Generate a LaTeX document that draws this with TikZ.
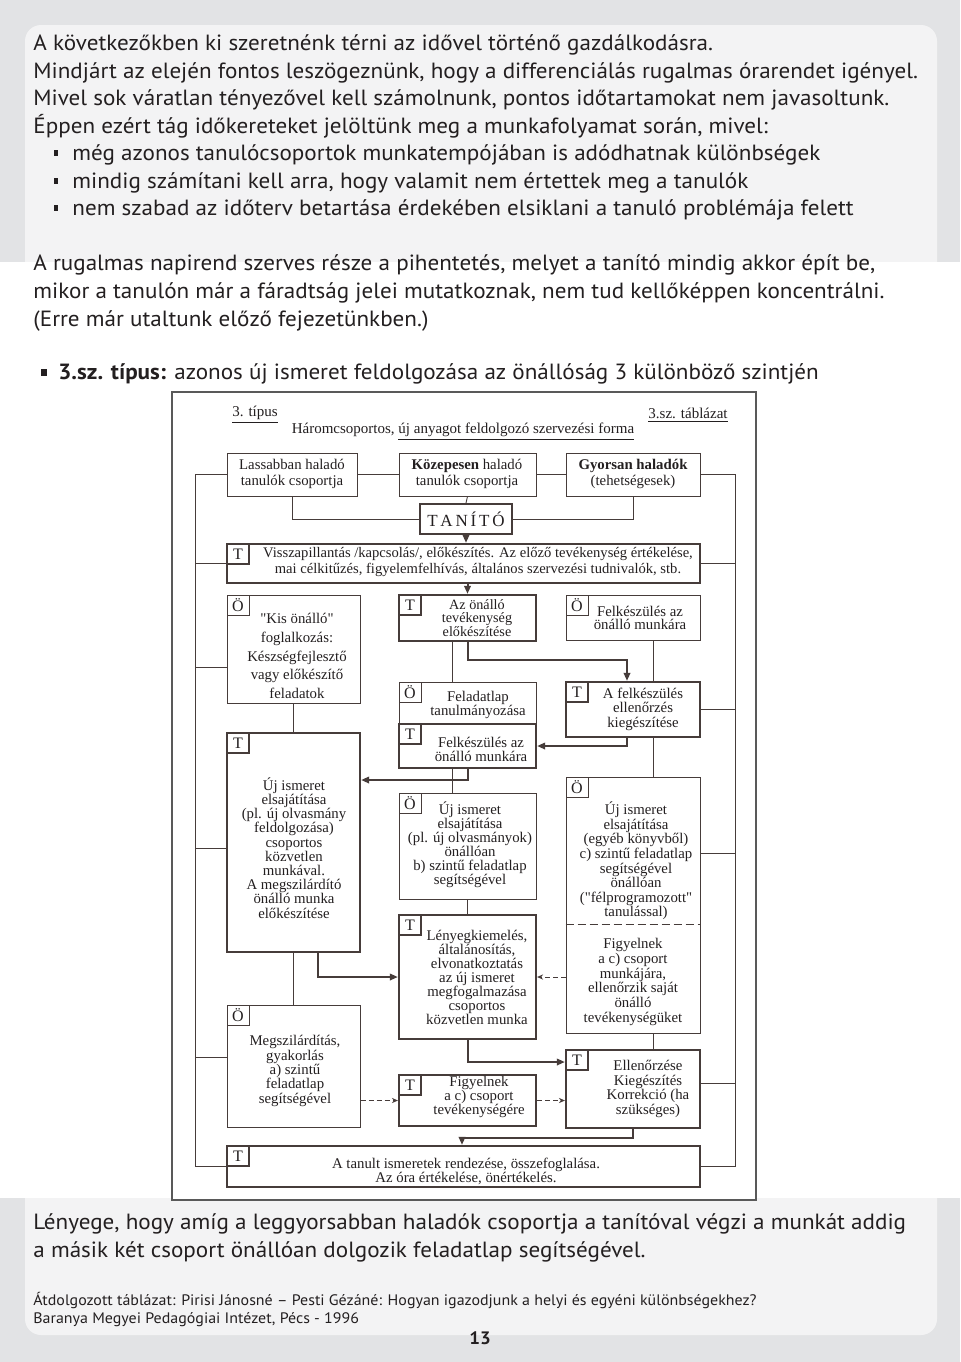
\documentclass[tikz,border=0pt]{standalone}
\usepackage{fontspec}
\setmainfont{Liberation Serif}
\newfontfamily\qfont{Liberation Serif}[Ligatures=TeXOff]
\newfontfamily\bodyfont[FakeStretch=1.05]{PT Sans}
\usetikzlibrary{arrows.meta, fit}

\definecolor{dline}{RGB}{70,60,58}
\definecolor{ink}{RGB}{35,31,32}
\definecolor{pagegray}{RGB}{226,227,229}
\definecolor{panel}{RGB}{243,243,244}

\newcommand{\sq}{{\qfont"}}

\tikzset{
    box/.style={draw=dline, inner sep=0pt, line width=0.5pt, text=ink},
    tbox/.style={box, line width=1.1pt},
    lab/.style={draw=dline, anchor=north west, minimum width=11pt, minimum height=10pt,
        inner sep=0pt, text=ink, font=\fontsize{8}{8}\selectfont},
    labt/.style={lab, line width=1.1pt},
    labo/.style={lab, line width=0.5pt},
    txt/.style={align=center, inner sep=0pt, text=ink, font=\fontsize{7.4}{#1}\selectfont},
    txt/.default=7.4,
    link/.style={draw=dline, line width=0.45pt},
    flow/.style={draw=dline, line width=1pt, -{Triangle[length=4pt,width=3.2pt]}},
    dflow/.style={draw=dline, line width=0.5pt, dash pattern=on 2.5pt off 1.5pt,
        -{Stealth[length=3pt,width=2.6pt]}},
    ptext/.style={anchor=base west, inner sep=0pt, text=ink,
        font=\bodyfont\fontsize{11}{12}\selectfont},
    stext/.style={ptext, font=\bodyfont\fontsize{7.6}{9}\selectfont},
    dot/.style={fill=ink, minimum width=2.2pt, minimum height=3pt, inner sep=0pt},
}

\begin{document}
\begin{tikzpicture}[x=0.5pt, y=-0.5pt]
% page
\useasboundingbox (0,0) rectangle (960,1362);
\fill[pagegray] (0,0) rectangle (960,1362);
\fill[panel, rounded corners=8pt] (25,25) rectangle (937,1335);
\fill[white] (0,262) rectangle (960,1198);

% text above
\node[ptext] (p1) at (33,50) {A következőkben ki szeretnénk térni az idővel történő gazdálkodásra.};
\node[ptext] (p2) at (33,78) {Mindjárt az elején fontos leszögeznünk, hogy a differenciálás rugalmas órarendet igényel.};
\node[ptext] (p3) at (33,105) {Mivel sok váratlan tényezővel kell számolnunk, pontos időtartamokat nem javasoltunk.};
\node[ptext] (p4) at (33,133) {Éppen ezért tág időkereteket jelöltünk meg a munkafolyamat során, mivel:};
\node[dot] (d1) at (56,153) {};
\node[ptext] (i1) at (72,160) {még azonos tanulócsoportok munkatempójában is adódhatnak különbségek};
\node[dot] (d2) at (56,181) {};
\node[ptext] (i2) at (72,188) {mindig számítani kell arra, hogy valamit nem értettek meg a tanulók};
\node[dot] (d3) at (56,208) {};
\node[ptext] (i3) at (72,215) {nem szabad az időterv betartása érdekében elsiklani a tanuló problémája felett};
\node[ptext] (q1) at (33,270) {A rugalmas napirend szerves része a pihentetés, melyet a tanító mindig akkor épít be,};
\node[ptext] (q2) at (33,298) {mikor a tanulón már a fáradtság jelei mutatkoznak, nem tud kellőképpen koncentrálni.};
\node[ptext] (q3) at (33,326) {(Erre már utaltunk előző fejezetünkben.)};
\node[dot, minimum width=3pt, minimum height=3.5pt] (d4) at (44,372) {};
\node[ptext] (head) at (58,379) {\textbf{3.sz. típus:} azonos új ismeret feldolgozása az önállóság 3 különböző szintjén};

% frame of the table
\draw[draw=gray!70!black, line width=1.2pt, fill=white] (172,392) rectangle (756,1200);
\node[txt] (tip) at (255,415) {\fontsize{7.5}{8}\selectfont\underline{3. típus}};
\node[txt] (tabl) at (688,415) {\fontsize{7.5}{8}\selectfont\underline{3.sz. táblázat}};
\node[txt] (title) at (463,432) {\fontsize{7.5}{8}\selectfont Háromcsoportos, \underline{új anyagot feldolgozó szervezési forma}};

% groups and teacher
\node[box, fit={(227,453) (357,496)}] (lass) {};
\node[box, fit={(399,453) (536,496)}] (koz) {};
\node[box, fit={(566,453) (700,496)}] (gyors) {};
\node[tbox, fit={(420,504) (512,534)}] (tanito) {};
\node[txt=7.6] (lass-t) at (292,474) {Lassabban haladó\\tanulók csoportja};
\node[txt=7.6] (koz-t) at (467,474) {\textbf{Közepesen} haladó\\tanulók csoportja};
\node[txt=7.6] (gyors-t) at (633,474) {\textbf{Gyorsan haladók}\\(tehetségesek)};
\node[txt, font=\fontsize{8.5}{9}\selectfont] (tanito-t) at (466,519) {T\,A\,N\,Í\,T\,Ó};

% boxes
\node[tbox, fit={(227,544) (700,583)}] (vissza) {};
\node[box, fit={(227,595) (360,703)}] (kis) {};
\node[tbox, fit={(399,595) (536,641)}] (aznal) {};
\node[box, fit={(566,595) (700,640)}] (felk1) {};
\node[box, fit={(399,682) (536,724)}] (feladat) {};
\node[tbox, fit={(399,724) (536,768)}] (felk2) {};
\node[tbox, fit={(566,682) (700,737)}] (afelk) {};
\node[tbox, fit={(227,733) (360,952)}] (uj1) {};
\node[box, fit={(399,793) (536,899)}] (uj2) {};
\node[box, fit={(566,777) (700,1033)}] (uj3) {};
\node[tbox, fit={(399,915) (536,1039)}] (leny) {};
\node[box, fit={(227,1005) (360,1127)}] (megsz) {};
\node[tbox, fit={(399,1075) (536,1126)}] (figy) {};
\node[tbox, fit={(566,1050) (700,1128)}] (ellen) {};
\node[tbox, fit={(227,1146) (700,1187)}] (osszeg) {};
\draw[draw=dline, line width=0.5pt, dash pattern=on 4pt off 2pt] (uj3.west |- 0,924) -- (uj3.east |- 0,924);

% corner labels
\node[labt] (vissza-l) at (vissza.north west) {T};
\node[labo] (kis-l) at (kis.north west) {Ö};
\node[labt] (aznal-l) at (aznal.north west) {T};
\node[labo] (felk1-l) at (felk1.north west) {Ö};
\node[labo] (feladat-l) at (feladat.north west) {Ö};
\node[labt] (felk2-l) at (felk2.north west) {T};
\node[labt] (afelk-l) at (afelk.north west) {T};
\node[labt] (uj1-l) at (uj1.north west) {T};
\node[labo] (uj2-l) at (uj2.north west) {Ö};
\node[labo] (uj3-l) at (uj3.north west) {Ö};
\node[labt] (leny-l) at (leny.north west) {T};
\node[labo] (megsz-l) at (megsz.north west) {Ö};
\node[labt] (figy-l) at (figy.north west) {T};
\node[labt] (ellen-l) at (ellen.north west) {T};
\node[labt] (osszeg-l) at (osszeg.north west) {T};

% texts in the boxes
\node[txt=8, font=\fontsize{7.3}{8}\selectfont] (vissza-t) at (478,562) {Visszapillantás /kapcsolás/, előkészítés. Az előző tevékenység értékelése,\\mai célkitűzés, figyelemfelhívás, általános szervezési tudnivalók, stb.};
\node[txt=9.4] (kis-t) at (297,656) {\sq Kis önálló\sq\\foglalkozás:\\Készségfejlesztő\\vagy előkészítő\\feladatok};
\node[txt, font=\fontsize{7.1}{6.8}\selectfont] (aznal-t) at (477,618) {Az önálló\\tevékenység\\előkészítése};
\node[txt=6.8] (felk1-t) at (640,618) {Felkészülés az\\önálló munkára};
\node[txt=7.3] (feladat-t) at (478,705) {Feladatlap\\tanulmányozása};
\node[txt=7] (felk2-t) at (481,749) {Felkészülés az\\önálló munkára};
\node[txt=7.3] (afelk-t) at (643,709) {A felkészülés\\ellenőrzés\\kiegészítése};
\node[txt=7.1] (uj1-t) at (294,848) {Új ismeret\\elsajátítása\\(pl. új olvasmány\\feldolgozása)\\csoportos\\közvetlen\\munkával.\\A megszilárdító\\önálló munka\\előkészítése};
\node[txt=7] (uj2-t) at (470,845) {Új ismeret\\elsajátítása\\(pl. új olvasmányok)\\önállóan\\b) szintű feladatlap\\segítségével};
\node[txt=7.3] (uj3-t) at (636,861) {Új ismeret\\elsajátítása\\(egyéb könyvből)\\c) szintű feladatlap\\segítségével\\önállóan\\(\sq félprogramozott\sq\\tanulással)};
\node[txt=7.4] (uj3-b) at (633,982) {Figyelnek\\a c) csoport\\munkájára,\\ellenőrzik saját\\önálló\\tevékenységüket};
\node[txt=7] (leny-t) at (477,977) {Lényegkiemelés,\\általánosítás,\\elvonatkoztatás\\az új ismeret\\megfogalmazása\\csoportos\\közvetlen munka};
\node[txt=7.2] (megsz-t) at (295,1071) {Megszilárdítás,\\gyakorlás\\a) szintű\\feladatlap\\segítségével};
\node[txt=7] (figy-t) at (479,1097) {Figyelnek\\a c) csoport\\tevékenységére};
\node[txt=7.4] (ellen-t) at (648,1089) {Ellenőrzése\\Kiegészítés\\Korrekció (ha\\szükséges)};
\node[txt=7] (osszeg-t) at (466,1171) {A tanult ismeretek rendezése, összefoglalása.\\Az óra értékelése, önértékelés.};

% rails
\coordinate (lrail) at (195,0);
\coordinate (rrail) at (735,0);
\draw[link] (lass.west) -| (lrail |- osszeg.west) -- (osszeg.west);
\draw[link] (gyors.east) -| (rrail |- osszeg.east) -- (osszeg.east);
\draw[link] (vissza.west) -- (lrail |- vissza.west);
\draw[link] (kis.west |- 0,667) -- (lrail |- 0,667);
\draw[link] (uj1.west |- 0,848) -- (lrail |- 0,848);
\draw[link] (megsz.west |- 0,1057) -- (lrail |- 0,1057);
\draw[link] (vissza.east) -- (rrail |- vissza.east);
\draw[link] (afelk.east) -- (rrail |- afelk.east);
\draw[link] (uj3.east |- 0,853) -- (rrail |- 0,853);
\draw[link] (ellen.east |- 0,1083) -- (rrail |- 0,1083);

% connectors
\draw[link] (lass.east) -- (koz.west);
\draw[link] (koz.east) -- (gyors.west);
\draw[link] (koz.south) -- (tanito.north);
\draw[link] (lass.south) |- (tanito.west);
\draw[link] (gyors.south) |- (tanito.east);
\draw[flow] (tanito.south) -- (tanito.south |- vissza.north);
\draw[flow] (vissza.south -| aznal.north) -- (aznal.north);
\draw[flow] (aznal.south) |- (627,660) -- (627,0 |- afelk.north);
\draw[link] (452,0 |- aznal.south) -- (452,0 |- feladat.north);
\draw[link] (653,0 |- felk1.south) -- (653,0 |- afelk.north);
\draw[link] (653,0 |- afelk.south) -- (653,0 |- uj3.north);
\draw[link] (653,0 |- uj3.south) -- (653,0 |- ellen.north);
\draw[flow] (627,0 |- afelk.south) |- (felk2.east);
\draw[link] (kis.south) -- (uj1.north);
\draw[flow] (felk2.south) |- (uj1.east |- 0,780);
\draw[link] (452,0 |- felk2.south) -- (452,0 |- uj2.north);
\draw[link] (uj2.south) -- (leny.north);
\draw[flow] (318,0 |- uj1.south) |- (leny.west);
\draw[link] (uj1.south) -- (megsz.north);
\draw[dflow] (uj3.west |- leny.east) -- (leny.east);
\draw[flow] (leny.south) |- (ellen.west |- 0,1062);
\draw[dflow] (megsz.east |- figy.west) -- (figy.west);
\draw[dflow] (figy.east) -- (ellen.west |- figy.east);
\draw[flow] (ellen.south) |- (462,1138) -- (462,0 |- osszeg.north);

% text below
\node[ptext] (r1) at (33,1229) {Lényege, hogy amíg a leggyorsabban haladók csoportja a tanítóval végzi a munkát addig};
\node[ptext] (r2) at (33,1257) {a másik két csoport önállóan dolgozik feladatlap segítségével.};
\node[stext] (s1) at (33,1305) {Átdolgozott táblázat: Pirisi Jánosné – Pesti Gézáné: Hogyan igazodjunk a helyi és egyéni különbségekhez?};
\node[stext] (s2) at (33,1323) {Baranya Megyei Pedagógiai Intézet, Pécs - 1996};
\node[ptext, anchor=base, font=\bodyfont\bfseries\fontsize{9}{10}\selectfont] (pg) at (480,1344) {13};
\end{tikzpicture}
\end{document}
